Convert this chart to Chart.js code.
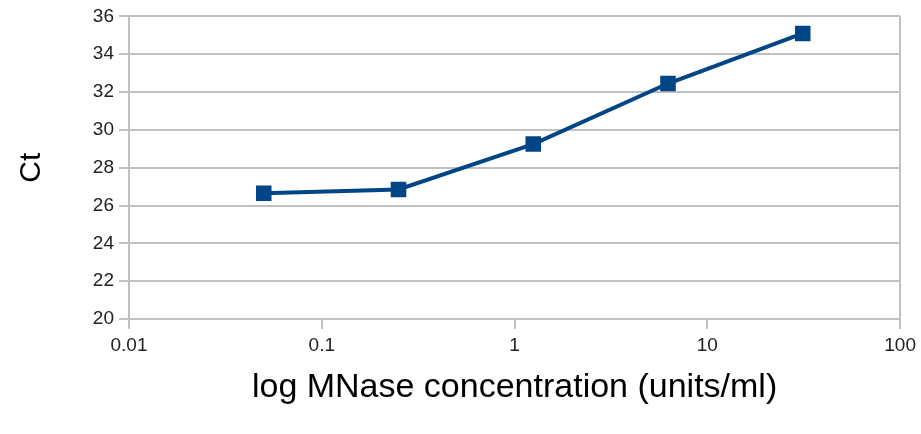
<!DOCTYPE html>
<html>
<head>
<meta charset="utf-8">
<script src="https://cdn.jsdelivr.net/npm/chart.js@4/dist/chart.umd.min.js"></script>
<style>
  html, body { margin: 0; padding: 0; background: #ffffff; }
  #wrap { width: 921px; height: 434px; }
</style>
</head>
<body>
<div id="wrap"><canvas id="c" width="921" height="434"></canvas></div>
<script>
// MNase titration: enzyme concentration (units/ml) against threshold cycle
const concentrations = [0.05, 0.25, 1.25, 6.25, 31.25];
const ctValues = [26.65, 26.85, 29.25, 32.45, 35.1];

// Axis ticks
const xTickValues = [0.01, 0.1, 1, 10, 100];
const xTickLabels = ['0.01', '0.1', '1', '10', '100'];
const yMin = 20, yMax = 36, yStep = 2;

const lineColor = '#004586';
const gridColor = '#c0c0c0';

const points = concentrations.map((c, i) => ({ x: c, y: ctValues[i] }));

new Chart(document.getElementById('c'), {
  type: 'line',
  data: {
    datasets: [{
      data: points,
      borderColor: lineColor,
      backgroundColor: lineColor,
      borderWidth: 4,
      tension: 0,
      pointStyle: 'rect',
      pointRadius: 11,
      pointHoverRadius: 11,
      pointBorderWidth: 0,
      pointBackgroundColor: lineColor
    }]
  },
  options: {
    responsive: false,
    animation: false,
    events: [],
    layout: { padding: { top: 16, right: 19, left: 0, bottom: 0 } },
    plugins: { legend: { display: false }, tooltip: { enabled: false } },
    scales: {
      x: {
        type: 'logarithmic',
        min: 0.01,
        max: 100,
        afterBuildTicks: (scale) => {
          scale.ticks = xTickValues.map(v => ({ value: v }));
        },
        afterFit: (scale) => { scale.height = 115; },
        grid: {
          lineWidth: 2,
          tickLength: 10,
          tickColor: gridColor,
          color: (ctx) => {
            const v = ctx.tick ? ctx.tick.value : null;
            return (v === 0.01 || v === 100) ? gridColor : 'rgba(0,0,0,0)';
          }
        },
        border: { display: true, color: gridColor, width: 2 },
        ticks: {
          autoSkip: false,
          maxRotation: 0,
          padding: 5,
          color: '#222222',
          font: { family: '"Liberation Sans", Arial, sans-serif', size: 19 },
          callback: (value, index) => xTickLabels[index]
        },
        title: {
          display: true,
          text: 'log MNase concentration (units/ml)',
          color: '#000000',
          font: { family: '"Liberation Sans", Arial, sans-serif', size: 34 },
          padding: { top: 0, bottom: 26 }
        }
      },
      y: {
        type: 'linear',
        min: yMin,
        max: yMax,
        afterFit: (scale) => { scale.width = 129; },
        grid: {
          lineWidth: 2,
          tickLength: 10,
          color: gridColor,
          tickColor: gridColor
        },
        border: { display: true, color: gridColor, width: 2 },
        ticks: {
          stepSize: yStep,
          padding: 5,
          color: '#222222',
          font: { family: '"Liberation Sans", Arial, sans-serif', size: 19 }
        },
        title: {
          display: true,
          text: 'Ct',
          color: '#000000',
          font: { family: '"Liberation Sans", Arial, sans-serif', size: 30 },
          padding: { top: 14, bottom: 0 }
        }
      }
    }
  }
});
</script>
</body>
</html>
